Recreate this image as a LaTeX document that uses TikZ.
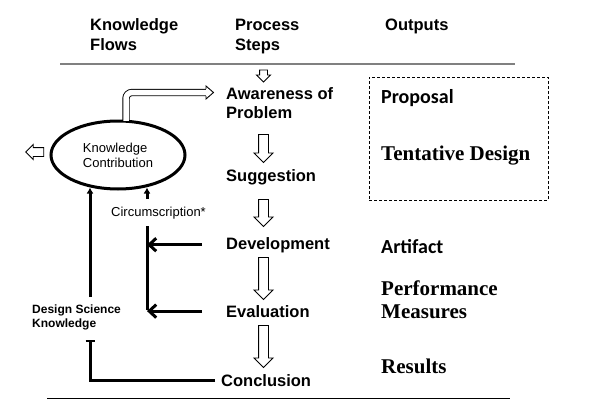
\documentclass[tikz,border=0pt]{standalone}
\usepackage{fontspec}
\setmainfont{Liberation Sans}
\newfontfamily\serifout{Liberation Serif}
\newfontfamily\calout{Carlito}
\usepackage{tikz}
\usetikzlibrary{positioning, arrows.meta, shapes.geometric, shapes.arrows, calc}

\begin{document}
\begin{tikzpicture}[x=1pt, y=-1pt,
    head/.style={font=\fontsize{16.5}{19}\selectfont\bfseries, align=left, anchor=base west, inner sep=0pt},
    stepbox/.style={head},
    small/.style={font=\fontsize{13}{15}\selectfont, align=left, inner sep=0pt},
    outcal/.style={font=\calout\bfseries\fontsize{20}{23}\selectfont, anchor=base west, inner sep=0pt},
    outser/.style={font=\serifout\bfseries\fontsize{21}{23}\selectfont, align=left, anchor=base west, inner sep=0pt},
    hollow/.style={single arrow, draw, line width=0.9pt, fill=white, inner sep=4.5pt, single arrow head extend=4.5pt},
    down/.style={hollow, rotate=-90},
    flow/.style={line width=3pt}]
    \useasboundingbox (0,0) rectangle (604,404);
    % headings
    \node (kf) [head] at (90,50) {Knowledge\\Flows};
    \node (ps) [head] at (235,50) {Process\\Steps};
    \node (op) [head] at (385,31) {Outputs};
    \draw [gray, line width=1.5pt] (60,64) -- (515,64);
    \draw [line width=1pt] (47,398) -- (510,398);
    % process steps
    \node (aw) [stepbox] at (226,118) {Awareness of\\Problem};
    \node (sg) [stepbox] at (226,181) {Suggestion};
    \node (dv) [stepbox] at (226,249) {Development};
    \node (ev) [stepbox] at (226,317) {Evaluation};
    \node (cc) [stepbox] at (221,386) {Conclusion};
    \node (a1) [down, minimum height=12pt, inner sep=3.5pt, single arrow head extend=3pt] at (263.5,74) {};
    \node (a2) [down, minimum height=28pt] at (263.5,146) {};
    \node (a3) [down, minimum height=27pt] at (263.5,210.5) {};
    \node (a4) [down, minimum height=42pt] at (263.5,276) {};
    \node (a5) [down, minimum height=42pt] at (263.5,344) {};
    % knowledge flows
    \node (kc) [ellipse, draw, line width=3pt, minimum width=134pt, minimum height=68pt, small] at (118,155) {Knowledge\\Contribution};
    \coordinate (bh) at (206,92.5);
    \draw [line width=0.9pt, double=white, double distance=5.5pt, rounded corners=6pt] ($(kc.north)+(8,1.4)$) |- (bh);
    \draw [line width=0.9pt, fill=white] ($(bh)+(0,-3.6)$) -- ++(0,-2.9) -- ++(7.5,6.5) -- ++(-7.5,6.5) -- ++(0,-2.9);
    \node (lo) [hollow, rotate=180, minimum height=18pt, inner sep=4pt, single arrow head extend=3pt] at (37,152) {};
    \coordinate (cb) at (147,310);
    \draw [flow, -{Latex[length=6pt, width=7pt]}, shorten >=-3pt] (cb) -- (cb |- kc.south);
    \node (cs) [small, fill=white, inner ysep=7.5pt, inner xsep=1pt, anchor=base] at (158.5,216) {Circumscription*};
    \draw [flow, -{Straight Barb[length=7pt, width=13pt]}] ([xshift=-24pt]dv.west) -- (dv.west -| cb);
    \draw [flow, -{Straight Barb[length=7pt, width=13pt]}] ([xshift=-24pt]ev.west) -- (ev.west -| cb);
    \node (dsk) [small, font=\fontsize{12}{13.5}\selectfont\bfseries, anchor=base west] at (32,327) {Design Science\\Knowledge};
    \coordinate (up1) at (90,297);
    \draw [flow, -{Latex[length=6pt, width=7pt]}, shorten >=-3pt] (up1) -- (up1 |- kc.south);
    \coordinate (dkb) at (90,340);
    \draw [flow, -{Bar[width=9pt, line width=2pt]}] ([xshift=-6pt]cc.west) -| (dkb);
    % outputs
    \node (pb) [draw, dash pattern=on 3pt off 2pt, line width=0.9pt, minimum width=179pt, minimum height=123pt] at (458.5,138.5) {};
    \node (prop) [outcal] at (381,103) {Proposal};
    \node (tent) [outser] at (381,160) {Tentative Design};
    \node (art) [outcal] at (381,253) {Artifact};
    \node (perf) [outser] at (381,318) {Performance\\Measures};
    \node (res) [outser] at (381,373) {Results};
\end{tikzpicture}
\end{document}
